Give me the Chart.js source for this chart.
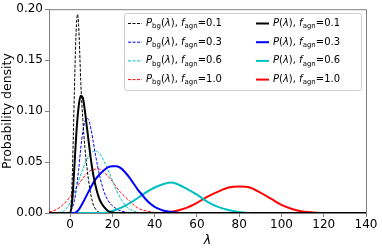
<!DOCTYPE html>
<html lang="en">
<head>
  <meta charset="UTF-8">
  <title>Probability density</title>
  <script src="https://cdn.jsdelivr.net/npm/chart.js"></script>
  <style>
    html, body { margin: 0; padding: 0; background: #fff; }
    #wrap { width: 382px; height: 248px; }
  </style>
</head>
<body>
<div id="wrap"><canvas id="myChart" width="382" height="248"></canvas></div>

<script>
  // values, [lambda, density]
  const pbg01 = [[-10,0],[0,0],[0.5,0.01],[1,0.035],[1.5,0.075],[2,0.118],[2.5,0.158],[3,0.185],[3.5,0.195],[4,0.185],[4.5,0.16],[5,0.13],[6,0.092],[7,0.064],[8,0.044],[9,0.028],[10,0.016],[11,0.008],[12,0.004],[13,0.0015],[15,0],[140,0]];
  const pbg03 = [[-10,0],[-2,0],[0,0.002],[2,0.012],[4,0.042],[5,0.063],[6,0.08],[7,0.09],[8,0.093],[9,0.09],[10,0.081],[11,0.069],[12,0.057],[13,0.046],[14,0.036],[15,0.028],[16,0.021],[18,0.012],[20,0.007],[22,0.004],[25,0.0015],[30,0],[140,0]];
  const pbg06 = [[-10,0],[-4,0.001],[-2,0.004],[0,0.01],[2,0.02],[4,0.032],[6,0.043],[8,0.053],[10,0.059],[12,0.061],[14,0.058],[16,0.051],[18,0.042],[20,0.032],[22,0.022],[24,0.014],[26,0.008],[28,0.004],[30,0.002],[34,0],[140,0]];
  const pbg10 = [[-10,0.001],[-8,0.002],[-6,0.004],[-4,0.007],[-2,0.011],[0,0.016],[2,0.022],[4,0.028],[6,0.034],[8,0.039],[10,0.042],[12,0.043],[14,0.043],[16,0.04],[18,0.036],[20,0.031],[22,0.025],[24,0.02],[26,0.016],[28,0.012],[30,0.008],[32,0.005],[34,0.003],[36,0.002],[40,0.0005],[44,0],[140,0]];
  const p01 = [[-10,0],[0,0],[1,0.012],[2,0.045],[3,0.08],[4,0.104],[5,0.115],[6,0.113],[7,0.1],[8,0.083],[9,0.066],[10,0.05],[11,0.037],[12,0.027],[13,0.019],[14,0.013],[15,0.009],[16,0.006],[18,0.002],[20,0.0005],[22,0],[140,0]];
  const p03 = [[-10,0],[2,0],[4,0.003],[6,0.01],[8,0.018],[10,0.026],[12,0.033],[14,0.038],[16,0.042],[18,0.045],[20,0.046],[22,0.046],[24,0.044],[26,0.04],[28,0.035],[30,0.029],[32,0.023],[34,0.018],[36,0.013],[38,0.009],[40,0.006],[42,0.004],[45,0.002],[50,0.0005],[55,0],[140,0]];
  const p06 = [[-10,0],[15,0],[20,0.002],[25,0.006],[30,0.012],[35,0.019],[40,0.025],[45,0.029],[48,0.03],[50,0.029],[55,0.024],[60,0.018],[65,0.011],[70,0.006],[75,0.003],[80,0.001],[85,0],[140,0]];
  const p10 = [[-10,0],[40,0],[45,0.0005],[50,0.002],[55,0.005],[60,0.01],[65,0.016],[70,0.021],[75,0.025],[80,0.026],[85,0.025],[90,0.02],[95,0.014],[100,0.008],[105,0.004],[110,0.0015],[115,0.0005],[120,0],[140,0]];

  const fagn = ['0.1', '0.3', '0.6', '1.0'];
  const colors = ['#000000', '#0000ff', '#00bfbf', '#ff0000'];
  const xTicks = [0, 20, 40, 60, 80, 100, 120, 140];
  const yTicks = [0, 0.05, 0.10, 0.15, 0.20];

  const bgSeries = [pbg01, pbg03, pbg06, pbg10];
  const pSeries = [p01, p03, p06, p10];

  const font = "'DejaVu Sans', sans-serif";

  function toPoints(arr) {
    return arr.map(p => ({ x: p[0], y: p[1] }));
  }

  let datasets = [];
  bgSeries.forEach((s, i) => {
    datasets.push({
      label: 'Pbg f=' + fagn[i],
      data: toPoints(s),
      borderColor: colors[i],
      borderWidth: 1,
      borderDash: [3, 1.5],
      pointRadius: 0,
      cubicInterpolationMode: 'monotone',
      order: 2
    });
  });
  pSeries.forEach((s, i) => {
    datasets.push({
      label: 'P f=' + fagn[i],
      data: toPoints(s),
      borderColor: colors[i],
      borderWidth: 2,
      pointRadius: 0,
      cubicInterpolationMode: 'monotone',
      order: 1
    });
  });

  // draws text pieces with italics and subscripts
  function drawRich(ctx, x, y, parts, size) {
    parts.forEach(p => {
      let fs = p.sub ? size * 0.7 : size;
      ctx.font = (p.it ? 'italic ' : '') + fs + 'px ' + font;
      ctx.fillText(p.t, x, y + (p.sub ? size * 0.3 : 0));
      x += ctx.measureText(p.t).width;
    });
  }

  // frame on top/right plus the two-column legend
  const extras = {
    id: 'extras',
    afterDatasetsDraw(chart) {
      const ctx = chart.ctx;
      const a = chart.chartArea;
      ctx.save();
      ctx.strokeStyle = '#808080';
      ctx.lineWidth = 1;
      ctx.beginPath();
      ctx.moveTo(a.left, a.top + 0.5);
      ctx.lineTo(a.right + 0.5, a.top + 0.5);
      ctx.lineTo(a.right + 0.5, a.bottom);
      ctx.stroke();

      // legend box
      let bx = 124.5, by = 13.5, bw = 237, bh = 77;
      ctx.fillStyle = 'rgba(255,255,255,0.8)';
      ctx.strokeStyle = '#d0d0d0';
      ctx.beginPath();
      ctx.roundRect(bx, by, bw, bh, 2);
      ctx.fill();
      ctx.stroke();

      ctx.textBaseline = 'middle';
      ctx.fillStyle = '#000';
      for (let i = 0; i < 4; i++) {
        let ry = 23.5 + i * 18.7;
        // dashed column
        ctx.strokeStyle = colors[i];
        ctx.lineWidth = 1;
        ctx.setLineDash([3, 1.5]);
        ctx.beginPath();
        ctx.moveTo(128, ry);
        ctx.lineTo(142, ry);
        ctx.stroke();
        ctx.setLineDash([]);
        drawRich(ctx, 146, ry, [
          { t: 'P', it: true }, { t: 'bg', sub: true }, { t: '(' }, { t: 'λ', it: true },
          { t: '), ' }, { t: 'f', it: true }, { t: 'agn', sub: true }, { t: '=' + fagn[i] }
        ], 10);
        // solid column
        ctx.strokeStyle = colors[i];
        ctx.lineWidth = 2;
        ctx.beginPath();
        ctx.moveTo(256, ry);
        ctx.lineTo(269, ry);
        ctx.stroke();
        drawRich(ctx, 273, ry, [
          { t: 'P', it: true }, { t: '(' }, { t: 'λ', it: true },
          { t: '), ' }, { t: 'f', it: true }, { t: 'agn', sub: true }, { t: '=' + fagn[i] }
        ], 10);
      }
      ctx.restore();
    }
  };

  new Chart(document.getElementById('myChart'), {
    type: 'line',
    data: { datasets: datasets },
    plugins: [extras],
    options: {
      responsive: false,
      animation: false,
      layout: { padding: { top: 8, right: 16, left: 0, bottom: 0 } },
      plugins: { legend: { display: false }, tooltip: { enabled: false } },
      scales: {
        x: {
          type: 'linear',
          min: -10,
          max: 140,
          afterBuildTicks: scale => { scale.ticks = xTicks.map(v => ({ value: v })); },
          afterFit: scale => { scale.height = 35; },
          grid: { drawOnChartArea: false, drawTicks: true, tickLength: 4, color: '#808080' },
          border: { color: '#808080' },
          ticks: { color: '#000', font: { family: font, size: 12 }, padding: 1, maxRotation: 0 },
          title: { display: true, text: 'λ', color: '#000', font: { family: font, size: 12.5, style: 'italic' }, padding: { top: 0, bottom: 0 } }
        },
        y: {
          min: 0,
          max: 0.2,
          afterBuildTicks: scale => { scale.ticks = yTicks.map(v => ({ value: v })); },
          afterFit: scale => { scale.width = 49; },
          grid: { drawOnChartArea: false, drawTicks: true, tickLength: 4, color: '#808080' },
          border: { color: '#808080' },
          ticks: { color: '#000', font: { family: font, size: 12 }, padding: 2, callback: v => v.toFixed(2) },
          title: { display: true, text: 'Probability density', color: '#000', font: { family: font, size: 12.5 }, padding: { top: 0, bottom: 0 } }
        }
      }
    }
  });
</script>
</body>
</html>
